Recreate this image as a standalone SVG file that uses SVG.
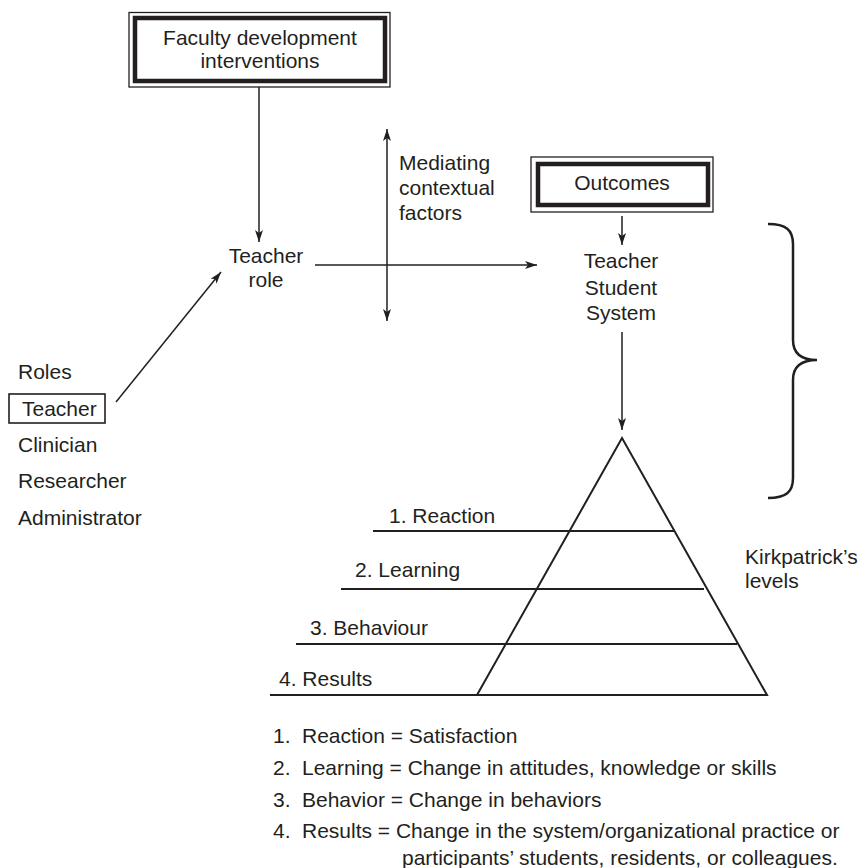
<svg xmlns="http://www.w3.org/2000/svg" width="861" height="868" viewBox="0 0 861 868">
<style>
text { font-family: "Liberation Sans", Arial, sans-serif; font-size: 21px; fill: #231f20; }
.c { text-anchor: middle; }
.thin { fill: none; stroke: #231f20; stroke-width: 1.3; }
.thick { fill: none; stroke: #231f20; stroke-width: 4.5; }
.conn { fill: none; stroke: #231f20; stroke-width: 1.5; }
.lvl { fill: none; stroke: #231f20; stroke-width: 2; }
</style>
<defs>
<marker id="ah" markerUnits="userSpaceOnUse" markerWidth="14" markerHeight="10" refX="12" refY="4" orient="auto-start-reverse">
<path d="M0,0 L12,4 L0,8 L3,4 z" fill="#231f20"/>
</marker>
</defs>
<rect width="861" height="868" fill="#ffffff"/>

<g id="faculty">
<rect class="thin" x="129" y="12.5" width="261" height="74.5"/>
<rect class="thick" x="135" y="18" width="250" height="63"/>
<text class="c" x="260" y="45">Faculty development</text>
<text class="c" x="260" y="68">interventions</text>
</g>

<g id="teacher-role">
<text class="c" x="266" y="263">Teacher</text>
<text class="c" x="266" y="287">role</text>
</g>

<g id="mediating">
<text x="399" y="170">Mediating</text>
<text x="399" y="195">contextual</text>
<text x="399" y="220">factors</text>
</g>

<g id="outcomes">
<rect class="thin" x="531" y="157" width="182" height="55"/>
<rect class="thick" x="538" y="164" width="170" height="41"/>
<text class="c" x="622" y="190">Outcomes</text>
</g>

<g id="tss">
<text class="c" x="621" y="268">Teacher</text>
<text class="c" x="621" y="295">Student</text>
<text class="c" x="621" y="320">System</text>
</g>

<g id="roles">
<text x="18" y="379">Roles</text>
<rect x="9" y="394" width="96" height="29" fill="none" stroke="#231f20" stroke-width="1.6"/>
<text x="22" y="416">Teacher</text>
<text x="18" y="452">Clinician</text>
<text x="18" y="488">Researcher</text>
<text x="18" y="525">Administrator</text>
</g>

<g id="brace">
<path d="M768,224 C786,224 793,230 793,244 L793,340 C793,352 800,360 817,360 C800,360 793,368 793,380 L793,478 C793,492 786,498 768,498" fill="none" stroke="#231f20" stroke-width="2.5"/>
</g>

<g id="pyramid">
<path class="lvl" d="M477,695 L622,438 L767,695 Z"/>
<line class="lvl" x1="373" y1="531" x2="674" y2="531"/>
<line class="lvl" x1="341" y1="589" x2="704" y2="589"/>
<line class="lvl" x1="296" y1="644" x2="737" y2="644"/>
<line class="lvl" x1="270" y1="695" x2="767" y2="695"/>
<text x="389" y="523">1. Reaction</text>
<text x="355" y="577">2. Learning</text>
<text x="310" y="635">3. Behaviour</text>
<text x="279" y="686">4. Results</text>
</g>

<g id="kirkpatrick">
<text x="745" y="564">Kirkpatrick’s</text>
<text x="745" y="588">levels</text>
</g>

<g id="legend">
<text x="273" y="743">1.</text><text x="302" y="743">Reaction = Satisfaction</text>
<text x="273" y="775">2.</text><text x="302" y="775">Learning = Change in attitudes, knowledge or skills</text>
<text x="273" y="807">3.</text><text x="302" y="807">Behavior = Change in behaviors</text>
<text x="273" y="838">4.</text><text x="302" y="838">Results = Change in the system/organizational practice or</text>
<text x="402" y="865">participants’ students, residents, or colleagues.</text>
</g>

<g id="connectors">
<line class="conn" x1="259" y1="87" x2="259" y2="242" marker-end="url(#ah)"/>
<line class="conn" x1="387" y1="129" x2="387" y2="321" marker-start="url(#ah)" marker-end="url(#ah)"/>
<line class="conn" x1="315" y1="265" x2="537" y2="265" marker-end="url(#ah)"/>
<line class="conn" x1="116" y1="402" x2="221" y2="272" marker-end="url(#ah)"/>
<line class="conn" x1="622" y1="216" x2="622" y2="245" marker-end="url(#ah)"/>
<line class="conn" x1="622" y1="332" x2="622" y2="430" marker-end="url(#ah)"/>
</g>
</svg>
